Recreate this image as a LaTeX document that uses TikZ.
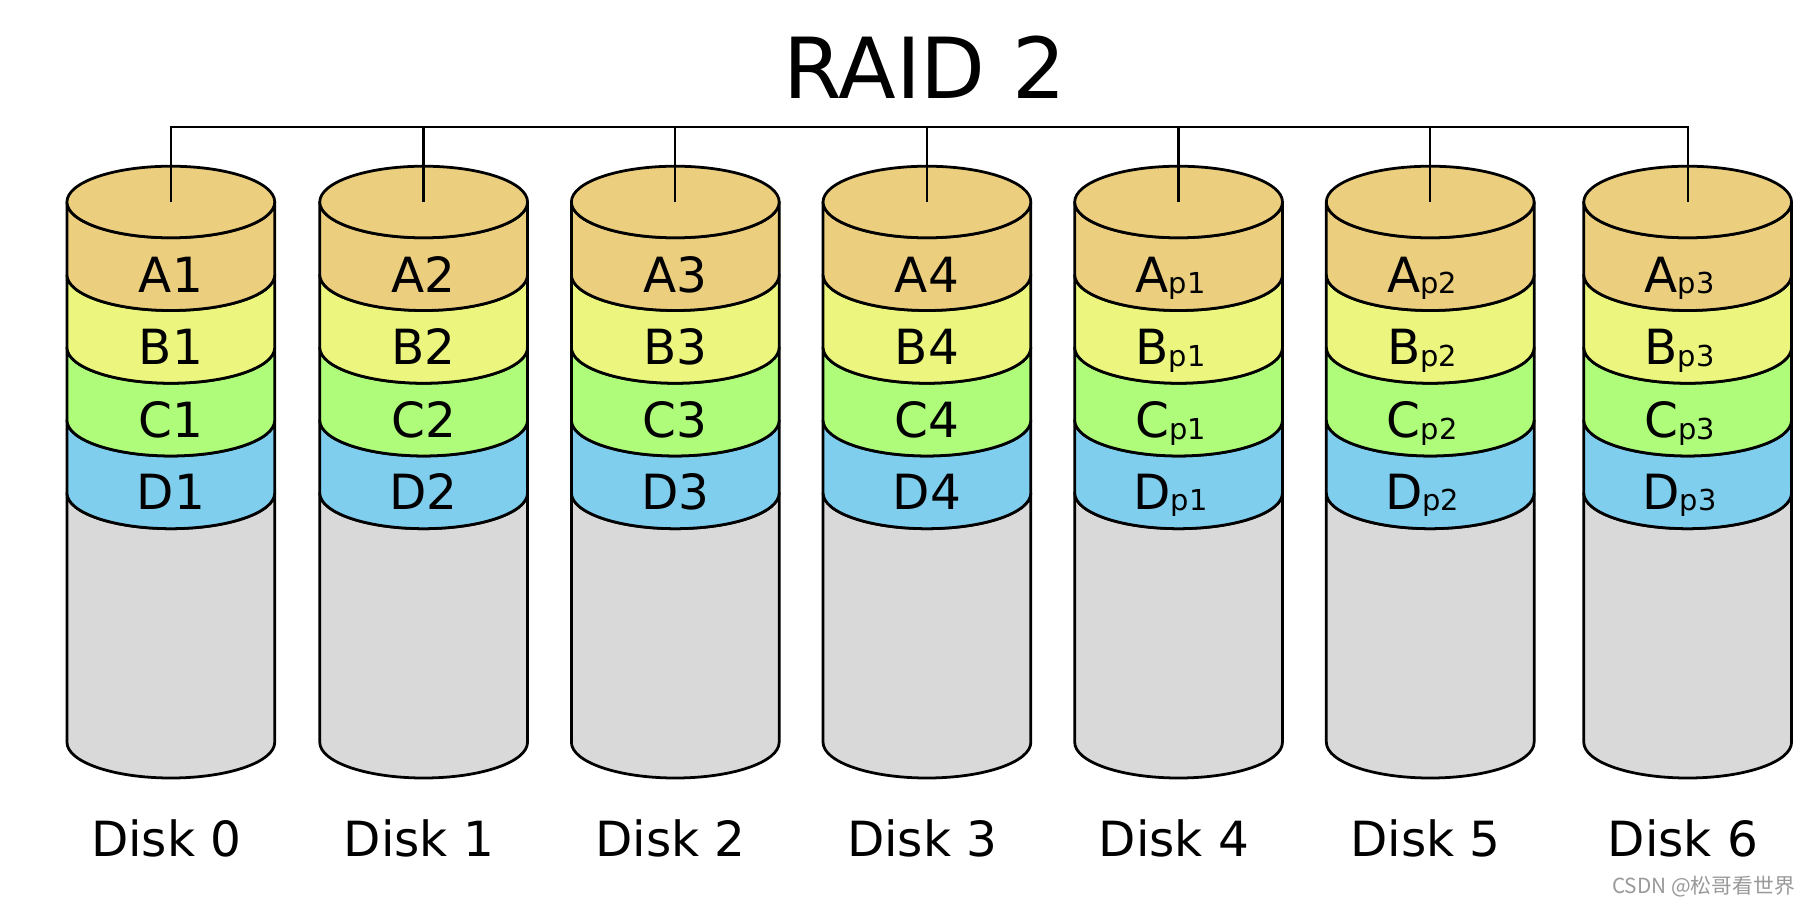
\documentclass[tikz,border=0pt]{standalone}
\usepackage{fontspec}
\setmainfont{DejaVu Sans}
\newfontfamily\cjk{Noto Sans CJK SC}
\definecolor{cA}{RGB}{236,207,126}
\definecolor{cB}{RGB}{236,246,126}
\definecolor{cC}{RGB}{174,252,122}
\definecolor{cD}{RGB}{128,206,238}
\definecolor{cG}{RGB}{217,217,217}
\newcommand{\psub}[1]{\raisebox{-1.5pt}{\fontsize{25}{25}\selectfont #1}}
\tikzset{
  outline/.style={draw=black, line width=2.4pt, line join=round},
  bus/.style={draw=black, line width=2pt},
  lbl/.style={font=\fontsize{42}{42}\selectfont, anchor=base, inner sep=0pt},
  disklbl/.style={font=\fontsize{42}{42}\selectfont, anchor=base, inner sep=0pt},
  ttl/.style={font=\fontsize{73}{73}\selectfont, anchor=base, inner sep=0pt},
}
\begin{document}
\begin{tikzpicture}[x=1pt,y=1pt]
\useasboundingbox (0,0) rectangle (1568,783);
\fill[white] (0,0) rectangle (1568,783);
\node[ttl] (title) at (801,698) {RAID 2};
\foreach \i/\cx/\a/\b/\c/\d in {0/148/A1/B1/C1/D1, 1/367/A2/B2/C2/D2, 2/585/A3/B3/C3/D3, 3/803/A4/B4/C4/D4,
  4/1021/A\psub{p1}/B\psub{p1}/C\psub{p1}/D\psub{p1},
  5/1239/A\psub{p2}/B\psub{p2}/C\psub{p2}/D\psub{p2},
  6/1462/A\psub{p3}/B\psub{p3}/C\psub{p3}/D\psub{p3}} {
  \pgfmathsetmacro{\lx}{\cx-90}
  \pgfmathsetmacro{\rx}{\cx+90}
  \pgfmathsetmacro{\tx}{\i>3 ? \cx-7 : \cx}
  % gray body
  \path[outline, fill=cG] (\lx,356) -- (\lx,140)
     arc[start angle=180, end angle=360, x radius=90, y radius=31]
     -- (\rx,356) arc[start angle=0, end angle=-180, x radius=90, y radius=31] -- cycle;
  % bands
  \foreach \yt/\yb/\col in {419/356/cD, 482/419/cC, 545/482/cB, 608/545/cA} {
    \path[outline, fill=\col] (\lx,\yt) -- (\lx,\yb)
       arc[start angle=180, end angle=360, x radius=90, y radius=31]
       -- (\rx,\yt) arc[start angle=0, end angle=-180, x radius=90, y radius=31] -- cycle;
  }
  % top
  \path[outline, fill=cA] (\cx,608) ellipse[x radius=90, y radius=31];
  \coordinate (top\i) at (\cx,608);
  \coordinate (bus\i) at (\cx,673);
  \node[lbl] (a\i) at (\tx,530) {\a};
  \node[lbl] (b\i) at (\tx,467) {\b};
  \node[lbl] (c\i) at (\tx,404) {\c};
  \node[lbl] (d\i) at (\tx,342) {\d};
  \node[disklbl] (disk\i) at (\cx-4,41) {Disk \i};
}
\draw[bus] (top0) -- (bus0) -- (bus6) -- (top6);
\foreach \i in {1,...,5} { \draw[bus] (bus\i) -- (top\i); }
\node[anchor=base east, inner sep=0pt, text=black!40, font=\cjk\fontsize{18}{18}\selectfont] (wm) at (1555,9) {CSDN @松哥看世界};
\end{tikzpicture}
\end{document}
